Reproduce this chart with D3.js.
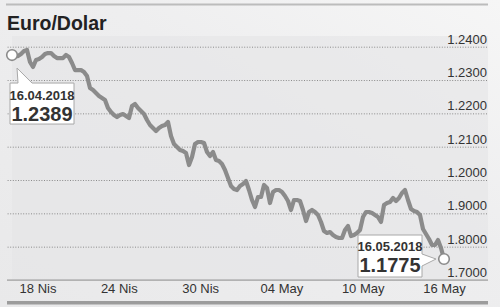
<!DOCTYPE html>
<html>
<head>
<meta charset="utf-8">
<script src="https://cdn.jsdelivr.net/npm/d3@7"></script>
<style>
  html, body { margin:0; padding:0; }
  body { width:500px; height:307px; overflow:hidden; }
  .lbl { font-family:"Liberation Sans Narrow", "Liberation Sans", sans-serif; fill:#333; }
</style>
</head>
<body>
<div id="chart"></div>
<script>

// EUR/USD, 16.04.2018 - 16.05.2018
var rates = [
  1.2375, 1.2372, 1.2372, 1.2378, 1.2387, 1.2390, 1.2354, 1.2339, 1.2360, 1.2363,
  1.2369, 1.2378, 1.2381, 1.2381, 1.2372, 1.2366, 1.2366, 1.2366, 1.2375, 1.2369,
  1.2351, 1.2330, 1.2330, 1.2330, 1.2324, 1.2312, 1.2276, 1.2270, 1.2261, 1.2252,
  1.2246, 1.2240, 1.2216, 1.2204, 1.2195, 1.2189, 1.2195, 1.2198, 1.2192, 1.2186,
  1.2222, 1.2228, 1.2216, 1.2207, 1.2198, 1.2180, 1.2165, 1.2156, 1.2147, 1.2156,
  1.2162, 1.2165, 1.2174, 1.2132, 1.2108, 1.2099, 1.2090, 1.2087, 1.2081, 1.2045,
  1.2069, 1.2108, 1.2114, 1.2114, 1.2111, 1.2084, 1.2072, 1.2084, 1.2060, 1.2057,
  1.2048, 1.2030, 1.2006, 1.1982, 1.1973, 1.1970, 1.1982, 1.1988, 1.1997, 1.1970,
  1.1940, 1.1919, 1.1949, 1.1949, 1.1985, 1.1976, 1.1931, 1.1964, 1.1970, 1.1970,
  1.1964, 1.1952, 1.1937, 1.1910, 1.1940, 1.1940, 1.1937, 1.1910, 1.1877, 1.1904,
  1.1910, 1.1904, 1.1895, 1.1874, 1.1847, 1.1841, 1.1844, 1.1835, 1.1829, 1.1826,
  1.1826, 1.1850, 1.1862, 1.1832, 1.1835, 1.1841, 1.1850, 1.1889, 1.1904, 1.1904,
  1.1901, 1.1895, 1.1889, 1.1874, 1.1925, 1.1931, 1.1934, 1.1946, 1.1937, 1.1946,
  1.1961, 1.1970, 1.1940, 1.1913, 1.1907, 1.1904, 1.1895, 1.1853, 1.1838, 1.1823,
  1.1805, 1.1805, 1.1820, 1.1796, 1.1763
];

var xTickLabels = ['18 Nis', '24 Nis', '30 Nis', '04 May', '10 May', '16 May'];

var yTickValues = [1.24, 1.23, 1.22, 1.21, 1.20, 1.19, 1.18, 1.17];
// labels as printed on the original
var yTickLabels = ['1.2400', '1.2300', '1.2200', '1.2100', '1.2000', '1.9000', '1.8000', '1.7000'];

var calloutDates = ['16.04.2018', '16.05.2018'];
var calloutValues = ['1.2389', '1.1775'];

var W = 500, H = 307;
var gLeft = 7, gRight = 487, gTop = 46.7, gBottom = 280;

var svg = d3.select('#chart').append('svg')
  .attr('width', W)
  .attr('height', H);

var defs = svg.append('defs');
var bg = defs.append('linearGradient').attr('id', 'bg')
  .attr('x1', '0').attr('y1', '1').attr('x2', '1').attr('y2', '0');
bg.append('stop').attr('offset', '0').attr('stop-color', '#e9e9ea');
bg.append('stop').attr('offset', '0.6').attr('stop-color', '#eeeeef');
bg.append('stop').attr('offset', '1').attr('stop-color', '#f6f6f6');

svg.append('rect')
  .attr('width', W).attr('height', H)
  .attr('fill', 'url(#bg)');

// chart panel
svg.append('rect')
  .attr('x', 12).attr('y', 36)
  .attr('width', gRight + 1 - 12).attr('height', gBottom - 36)
  .attr('fill', '#e4e4e6')
  .attr('opacity', 0.6);

// top rule
svg.append('rect')
  .attr('x', 6).attr('y', 3.5)
  .attr('width', 482).attr('height', 2)
  .attr('fill', '#bcbcbc');

svg.append('text')
  .attr('x', 7).attr('y', 30)
  .attr('font-family', '"Liberation Sans", Arial, sans-serif')
  .attr('font-weight', 'bold')
  .attr('font-size', '19.5px')
  .attr('fill', '#222')
  .text('Euro/Dolar');

var x = d3.scaleLinear().domain([0, rates.length - 1]).range([12, 444]);
var y = d3.scaleLinear().domain([1.17, 1.24]).range([gBottom, gTop]);
var xTicks = d3.scalePoint().domain(xTickLabels).range([37.5, 444]);

// y grid + labels
var yAxis = svg.append('g')
  .attr('transform', 'translate(' + gRight + ',0)')
  .call(d3.axisRight(y)
    .tickValues(yTickValues)
    .tickSize(-(gRight - gLeft))
    .tickFormat(function(d, i){ return yTickLabels[i]; }));

yAxis.select('.domain').remove();
yAxis.selectAll('.tick line')
  .attr('stroke', '#8a8a8a')
  .attr('stroke-width', 1)
  .attr('stroke-dasharray', '1,1.6')
  .attr('opacity', function(d){ return d === 1.17 ? 0 : 1; });
yAxis.selectAll('.tick text')
  .attr('class', 'lbl')
  .attr('x', 0)
  .attr('dy', -3.5)
  .attr('text-anchor', 'end')
  .attr('font-size', '13px')
  .attr('fill', '#333');

// baseline
svg.append('rect')
  .attr('x', gLeft).attr('y', gBottom - 0.5)
  .attr('width', gRight + 1 - gLeft).attr('height', 1.2)
  .attr('fill', '#9a9a9a');

// x labels
var xAxis = svg.append('g')
  .attr('transform', 'translate(0,' + gBottom + ')')
  .call(d3.axisBottom(xTicks).tickSize(0));
xAxis.select('.domain').remove();
xAxis.selectAll('.tick text')
  .attr('class', 'lbl')
  .attr('y', 13)
  .attr('dy', 0)
  .attr('font-size', '13px')
  .attr('fill', '#333');

// bottom bar
svg.append('rect')
  .attr('x', gLeft).attr('y', 301)
  .attr('width', gRight + 1 - gLeft).attr('height', 3.5)
  .attr('fill', '#9c9c9c');

// line
var line = d3.line()
  .x(function(d, i){ return x(i); })
  .y(function(d){ return y(d); });

svg.append('path')
  .datum(rates)
  .attr('d', line)
  .attr('fill', 'none')
  .attr('stroke', '#8b8b8b')
  .attr('stroke-width', 4.2)
  .attr('stroke-linejoin', 'round')
  .attr('stroke-linecap', 'round');

// callouts
var last = rates.length - 1;
var p0 = [x(0), y(rates[0])];
var p1 = [x(last), y(rates[last])];

var c0 = { bx:p0[0] - 2, by:p0[1] + 28, w:64, h:41 };
var c1 = { bx:p1[0] - 86, by:p1[1] - 24, w:64, h:42 };

svg.append('path')
  .attr('d', 'M' + c0.bx + ',' + c0.by +
    'L' + (c0.bx + 8) + ',' + c0.by +
    'L' + (p0[0] + 5) + ',' + (p0[1] + 13) +
    'L' + (c0.bx + 22) + ',' + c0.by +
    'L' + (c0.bx + c0.w) + ',' + c0.by +
    'L' + (c0.bx + c0.w) + ',' + (c0.by + c0.h) +
    'L' + c0.bx + ',' + (c0.by + c0.h) + 'Z')
  .attr('fill', '#fff')
  .attr('stroke', '#a8a8a8')
  .attr('stroke-width', 1);

svg.append('path')
  .attr('d', 'M' + c1.bx + ',' + c1.by +
    'L' + (c1.bx + c1.w) + ',' + c1.by +
    'L' + (c1.bx + c1.w) + ',' + (p1[1] - 5) +
    'L' + (p1[0] - 8) + ',' + p1[1] +
    'L' + (c1.bx + c1.w) + ',' + (p1[1] + 7) +
    'L' + (c1.bx + c1.w) + ',' + (c1.by + c1.h) +
    'L' + c1.bx + ',' + (c1.by + c1.h) + 'Z')
  .attr('fill', '#fff')
  .attr('stroke', '#a8a8a8')
  .attr('stroke-width', 1);

var boxes = [c0, c1];
boxes.forEach(function(c, i){
  svg.append('text')
    .attr('class', 'lbl')
    .attr('x', c.bx + c.w / 2).attr('y', c.by + (i == 0 ? 16.5 : 15.5))
    .attr('text-anchor', 'middle')
    .attr('font-size', '13px')
    .attr('font-weight', 'bold')
    .attr('fill', '#222')
    .text(calloutDates[i]);
  svg.append('text')
    .attr('class', 'lbl')
    .attr('x', c.bx + c.w / 2).attr('y', c.by + (i == 0 ? 37.5 : 36.5))
    .attr('text-anchor', 'middle')
    .attr('font-size', '20px')
    .attr('font-weight', 'bold')
    .attr('fill', '#1a1a1a')
    .text(calloutValues[i]);
});

svg.selectAll('circle.end')
  .data([0, last])
  .enter().append('circle')
  .attr('class', 'end')
  .attr('cx', function(i){ return x(i); })
  .attr('cy', function(i){ return y(rates[i]); })
  .attr('r', 5.3)
  .attr('fill', '#fff')
  .attr('stroke', '#8b8b8b')
  .attr('stroke-width', 1.6);

</script>
</body>
</html>
